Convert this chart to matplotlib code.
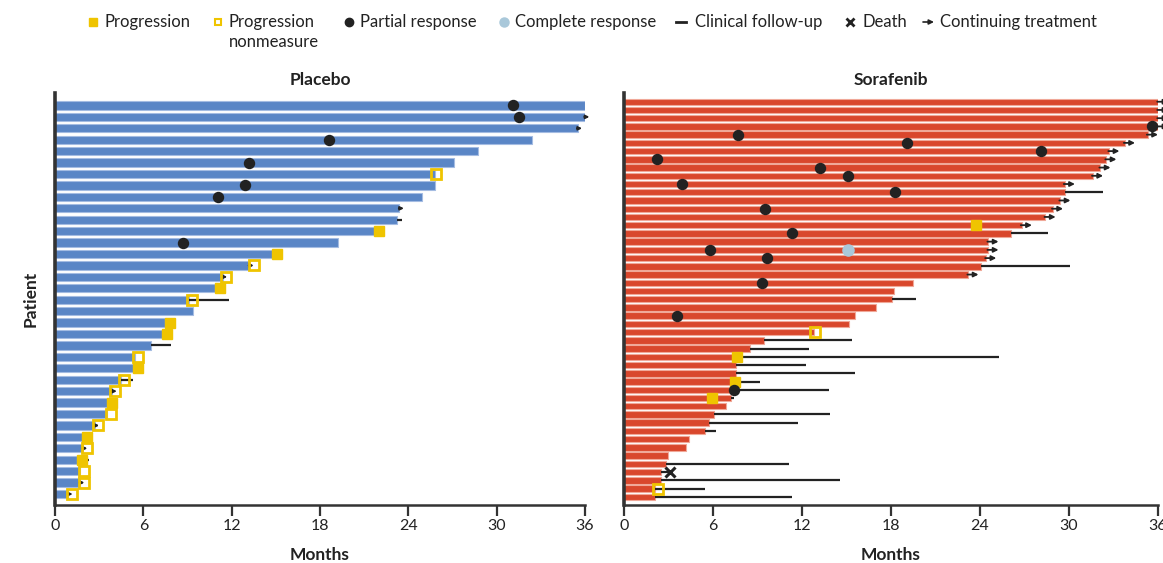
import numpy as np
import matplotlib
matplotlib.use("Agg")
import matplotlib.pyplot as plt

plt.rcParams["font.family"] = ["Lato", "DejaVu Sans"]

# Months on treatment, one entry per patient, longest first
placebo_end = [36.0, 36.0, 35.5, 32.4, 28.7, 27.1, 25.8, 25.8, 24.9, 23.4,
               23.2, 21.8, 19.2, 14.8, 13.2, 11.4, 10.9, 9.1, 9.35, 7.5,
               7.3, 6.55, 5.4, 5.4, 4.5, 3.9, 3.6, 3.5, 2.7, 1.9,
               1.9, 1.5, 1.7, 1.7, 0.9]
sorafenib_end = [36.0, 36.0, 36.0, 36.0, 35.3, 33.75, 32.7, 32.5, 32.1, 31.6,
                 29.7, 29.7, 29.4, 28.9, 28.4, 26.8, 26.1, 24.55, 24.55, 24.4,
                 24.1, 23.2, 19.45, 18.2, 18.1, 17.0, 15.6, 15.2, 12.8, 9.45,
                 8.5, 7.4, 7.55, 7.55, 7.2, 7.3, 7.2, 6.9, 6.1, 5.7,
                 5.45, 4.35, 4.2, 2.95, 2.85, 2.5, 2.5, 2.1, 2.1]

# Events: patient rank (1 = top row) and month of the event
placebo_prog_rows = [12, 14, 17, 20, 21, 24, 27, 30, 32]
placebo_prog_months = [22.0, 15.1, 11.2, 7.8, 7.6, 5.67, 3.85, 2.2, 1.8]
placebo_nm_rows = [7, 15, 16, 18, 23, 25, 26, 28, 29, 31, 33, 34, 35]
placebo_nm_months = [25.9, 13.5, 11.6, 9.3, 5.65, 4.7, 4.1, 3.8, 2.9, 2.15, 2.0, 1.95, 1.15]
placebo_pr_rows = [1, 2, 4, 6, 8, 9, 13]
placebo_pr_months = [31.1, 31.5, 18.6, 13.2, 12.9, 11.1, 8.7]
placebo_cr_rows = []
placebo_cr_months = []
placebo_fu_rows = [11, 18, 22, 25, 32]
placebo_fu_months = [23.6, 11.8, 7.9, 5.3, 2.3]
placebo_death_rows = []
placebo_death_months = []
placebo_cont_rows = [2, 3, 10, 15, 16, 26, 29, 31, 34, 35]

sorafenib_prog_rows = [16, 32, 35, 37]
sorafenib_prog_months = [23.75, 7.6, 7.45, 5.9]
sorafenib_nm_rows = [29, 48]
sorafenib_nm_months = [12.9, 2.3]
sorafenib_pr_rows = [4, 5, 6, 7, 8, 9, 10, 11, 12, 14, 17, 19, 20, 23, 27, 36]
sorafenib_pr_months = [35.6, 7.7, 19.1, 28.1, 2.2, 13.2, 15.1, 3.9, 18.3, 9.5,
                       11.3, 5.8, 9.65, 9.3, 3.6, 7.4]
sorafenib_cr_rows = [19]
sorafenib_cr_months = [15.1]
sorafenib_fu_rows = [12, 17, 21, 25, 30, 31, 32, 33, 34, 35, 36, 37, 39, 40,
                     41, 45, 46, 47, 48, 49]
sorafenib_fu_months = [32.3, 28.6, 30.1, 19.7, 15.4, 12.5, 25.3, 12.3, 15.6, 9.2,
                       13.85, 7.4, 13.9, 11.7, 6.2, 11.1, 3.1, 14.55, 5.45, 11.3]
sorafenib_death_rows = [46]
sorafenib_death_months = [3.1]
sorafenib_cont_rows = [1, 2, 3, 4, 5, 6, 7, 8, 9, 10, 11, 13, 14, 15, 16, 18, 19, 20, 22]

month_ticks = [0, 6, 12, 18, 24, 30, 36]

BLUE = "#5a86c6"
RED = "#d9472c"
YELLOW = "#efc400"
DARK = "#222222"
LIGHT_BLUE = "#a9c8da"

W, H = 1163, 563
fig = plt.figure(figsize=(W / 100, H / 100), dpi=100)


def draw_arm(ax, title, ends, color, edge, bar_h, arrow_len, arrow_scale,
             prog, nm, pr, cr, fu, death, cont):
    n = len(ends)
    ypos = lambda r: n - r
    ys = np.arange(n - 1, -1, -1)
    ax.barh(ys, ends, height=bar_h, color=color, edgecolor=edge, linewidth=0.8, zorder=2)

    for r, m in zip(*fu):
        ax.plot([ends[r - 1], m], [ypos(r), ypos(r)], color=DARK, lw=1.6,
                solid_capstyle="butt", zorder=3)
    for r in cont:
        e = ends[r - 1]
        ax.annotate("", xy=(e + arrow_len, ypos(r)), xytext=(e - 0.05, ypos(r)),
                    arrowprops=dict(arrowstyle="-|>", color=DARK, lw=1.3,
                                    mutation_scale=arrow_scale, shrinkA=0, shrinkB=0),
                    annotation_clip=False, zorder=5)

    r, m = prog
    ax.plot(m, [ypos(i) for i in r], ls="none", marker="s", ms=6.8, mfc=YELLOW,
            mec=YELLOW, zorder=4, clip_on=False)
    r, m = nm
    ax.plot(m, [ypos(i) for i in r], ls="none", marker="s", ms=6.8, mfc="none",
            mec=YELLOW, mew=2.0, zorder=6, clip_on=False)
    r, m = pr
    ax.plot(m, [ypos(i) for i in r], ls="none", marker="o", ms=7.2, mfc=DARK,
            mec=DARK, zorder=6, clip_on=False)
    r, m = cr
    if r:
        ax.plot(m, [ypos(i) for i in r], ls="none", marker="o", ms=8, mfc=LIGHT_BLUE,
                mec=LIGHT_BLUE, zorder=6)
    r, m = death
    if r:
        ax.plot(m, [ypos(i) for i in r], ls="none", marker="x", ms=7, mec=DARK,
                mew=2.2, zorder=6)

    ax.set_xlim(0, 36)
    ax.set_xticks(month_ticks)
    ax.set_yticks([])
    for s in ("top", "right"):
        ax.spines[s].set_visible(False)
    ax.spines["left"].set_linewidth(2.6)
    ax.spines["left"].set_color("#333333")
    ax.spines["bottom"].set_linewidth(1.8)
    ax.spines["bottom"].set_color("#333333")
    ax.tick_params(axis="x", length=8, width=1.6, color="#333333", labelsize=11.5,
                   pad=2, labelcolor="#222222")
    ax.set_title(title, fontsize=12.5, fontweight="bold", pad=6, color="#222222")
    ax.set_xlabel("Months", fontsize=12.5, fontweight="bold", labelpad=10, color="#222222")


ax_pl = fig.add_axes([55 / W, 1 - 505 / H, 530 / W, 412 / H])
draw_arm(ax_pl, "Placebo", placebo_end, BLUE, "#a4bce2", 0.72, 0.3, 5,
         (placebo_prog_rows, placebo_prog_months), (placebo_nm_rows, placebo_nm_months),
         (placebo_pr_rows, placebo_pr_months), (placebo_cr_rows, placebo_cr_months),
         (placebo_fu_rows, placebo_fu_months), (placebo_death_rows, placebo_death_months),
         placebo_cont_rows)
ax_pl.set_ylim(-0.96, len(placebo_end) - 1 + 1.09)
ax_pl.set_ylabel("Patient", fontsize=12.5, fontweight="bold", labelpad=12, color="#222222")

ax_so = fig.add_axes([624 / W, 1 - 505 / H, 534 / W, 412 / H])
draw_arm(ax_so, "Sorafenib", sorafenib_end, RED, "#f0a898", 0.78, 0.7, 7,
         (sorafenib_prog_rows, sorafenib_prog_months), (sorafenib_nm_rows, sorafenib_nm_months),
         (sorafenib_pr_rows, sorafenib_pr_months), (sorafenib_cr_rows, sorafenib_cr_months),
         (sorafenib_fu_rows, sorafenib_fu_months), (sorafenib_death_rows, sorafenib_death_months),
         sorafenib_cont_rows)
ax_so.set_ylim(-1.0, len(sorafenib_end) - 1 + 1.06)

# Legend row across the top, laid out in pixel coordinates
leg = fig.add_axes([0, 0, 1, 1], zorder=10)
leg.set_xlim(0, W)
leg.set_ylim(H, 0)
leg.axis("off")
ly = 22
txt = dict(fontsize=12, va="center", ha="left", color="#222222")
leg.plot(93, ly, marker="s", ms=5.5, color=YELLOW, ls="none")
leg.text(105, ly, "Progression", **txt)
leg.plot(218, ly, marker="s", ms=5, mfc="none", mec=YELLOW, mew=1.5, ls="none")
leg.text(229, ly, "Progression", **txt)
leg.text(229, ly + 20, "nonmeasure", **txt)
leg.plot(349, ly, marker="o", ms=6, color=DARK, ls="none")
leg.text(360, ly, "Partial response", **txt)
leg.plot(504, ly, marker="o", ms=6.5, color=LIGHT_BLUE, ls="none")
leg.text(515, ly, "Complete response", **txt)
leg.plot([676, 686], [ly, ly], color=DARK, lw=2)
leg.text(695, ly, "Clinical follow-up", **txt)
leg.plot(850, ly, marker="x", ms=6, mec=DARK, mew=2, ls="none")
leg.text(862, ly, "Death", **txt)
leg.annotate("", xy=(934, ly), xytext=(923, ly),
             arrowprops=dict(arrowstyle="-|>", color=DARK, lw=1.2, mutation_scale=7,
                             shrinkA=0, shrinkB=0))
leg.text(940, ly, "Continuing treatment", **txt)

fig.savefig("out.png", dpi=100)
